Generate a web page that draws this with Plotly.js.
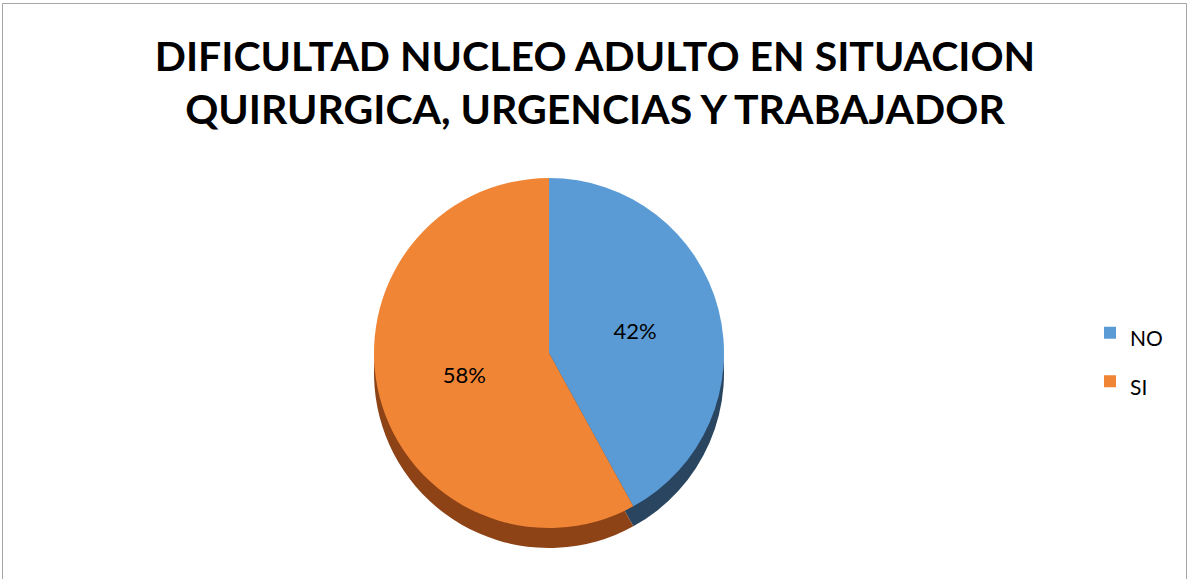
<!DOCTYPE html>
<html>
<head>
<meta charset="utf-8">
<script src="https://cdn.plot.ly/plotly-3.0.1.min.js"></script>
<style>
html,body{margin:0;padding:0;background:#fff;}
#chart{width:1190px;height:579px;}
</style>
</head>
<body>
<div id="chart"></div>
<script>
const categories = ['NO', 'SI'];
const values = [42, 58];
const topColors = ['#5B9BD5', '#F18536'];
const sideColors = ['#2A4560', '#8E4317'];
const chartTitle = 'DIFICULTAD NUCLEO ADULTO EN SITUACION<br>QUIRURGICA, URGENCIAS Y TRABAJADOR';

const W = 1190, H = 579;
const cx = 549, cyTop = 353, r = 175, depth = 20;

function dom(cy) {
  return {
    x: [(cx - r) / W, (cx + r) / W],
    y: [1 - (cy + r) / H, 1 - (cy - r) / H]
  };
}

// legend entries: smaller visible text inside a taller legend row
const legendLabels = categories.map(c => '<span style="font-size:21px">' + c + '</span>');

const sideTrace = {
  type: 'pie',
  labels: legendLabels,
  values: values,
  sort: false,
  direction: 'clockwise',
  rotation: 0,
  domain: dom(cyTop + depth),
  marker: {colors: sideColors, line: {width: 0}},
  textinfo: 'none',
  hoverinfo: 'skip',
  showlegend: false
};

const topTrace = {
  type: 'pie',
  labels: legendLabels,
  values: values,
  sort: false,
  direction: 'clockwise',
  rotation: 0,
  domain: dom(cyTop),
  marker: {colors: topColors, line: {width: 0}},
  textinfo: 'percent',
  texttemplate: '%{percent:.0%}',
  textposition: 'inside',
  insidetextorientation: 'horizontal',
  textfont: {family: 'Lato, "Open Sans", sans-serif', size: 22, color: '#000'},
  showlegend: true
};

const layout = {
  width: W,
  height: H,
  margin: {l: 0, r: 0, t: 0, b: 0},
  paper_bgcolor: '#fff',
  title: {
    text: chartTitle,
    x: 0.5,
    xanchor: 'center',
    y: 1 - 71 / H,
    yanchor: 'top',
    font: {family: 'Lato, "Open Sans", sans-serif', size: 41, color: '#000', weight: 'bold'}
  },
  legend: {
    x: 1090 / W,
    xanchor: 'left',
    y: 1 - 357 / H,
    yanchor: 'middle',
    font: {family: 'Lato, "Open Sans", sans-serif', size: 35, color: '#000'},
    tracegroupgap: 0,
    bgcolor: 'rgba(0,0,0,0)'
  },
  shapes: [{
    type: 'rect', xref: 'paper', yref: 'paper',
    x0: 2.5 / W, x1: 1186.5 / W, y0: -0.01, y1: 1 - 3.5 / H,
    line: {color: '#A6A6A6', width: 1}
  }]
};

Plotly.newPlot('chart', [sideTrace, topTrace], layout, {displayModeBar: false, staticPlot: true});
</script>
</body>
</html>
